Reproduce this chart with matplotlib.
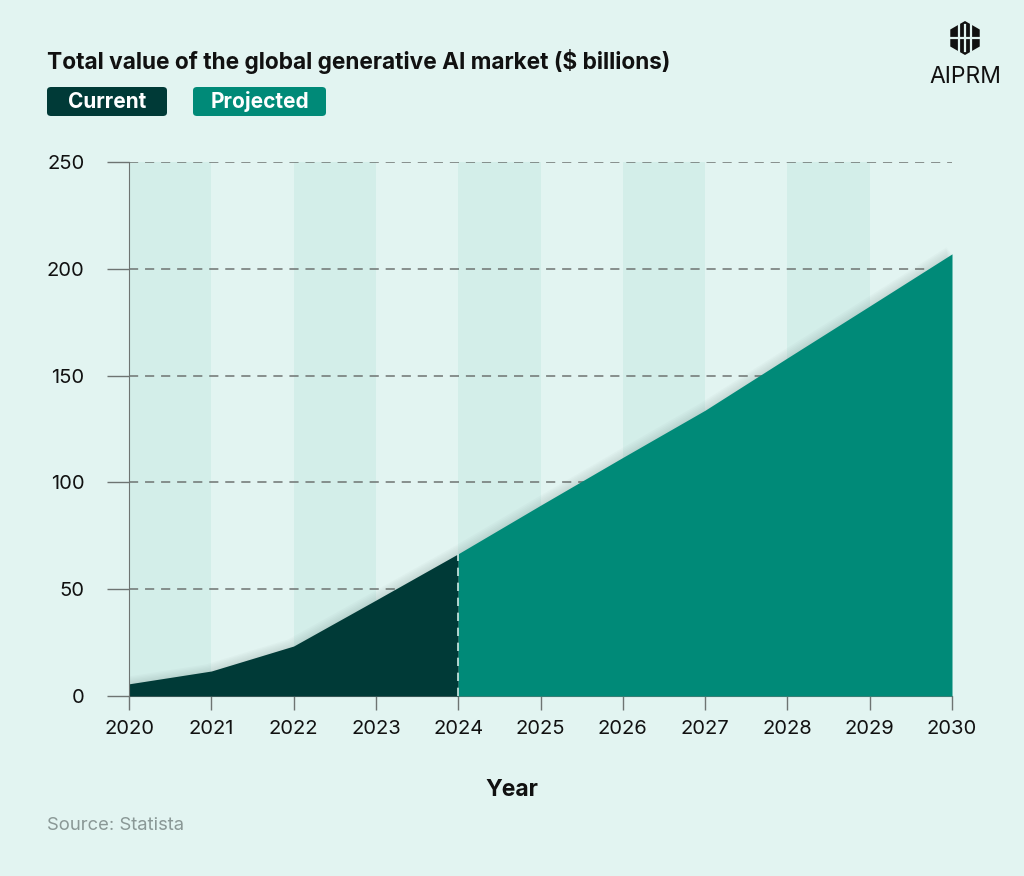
import matplotlib.pyplot as plt
from matplotlib.patches import FancyBboxPatch, Polygon
import numpy as np

# Datos
years = [2020, 2021, 2022, 2023, 2024, 2025, 2026, 2027, 2028, 2029, 2030]
market_value = [5.7, 11.7, 23.4, 44.9, 66.6, 89.3, 111.7, 133.8, 158.3, 182.6, 207.0]
split_year = 2024
y_ticks = [0, 50, 100, 150, 200, 250]

bg = '#E2F4F1'
band = '#D3EEE9'
dark = '#003A37'
green = '#008A78'
grid_c = '#6E7472'

plt.rcParams['font.family'] = ['Inter', 'DejaVu Sans']

fig = plt.figure(figsize=(10.24, 8.76), dpi=100, facecolor=bg)
ax = fig.add_axes([129 / 1024, 1 - 696 / 876, (952 - 129) / 1024, (696 - 162) / 876])
ax.set_facecolor(bg)

# Bandas alternas
for y0 in years[:-1:2]:
    ax.axvspan(y0, y0 + 1, color=band, lw=0, zorder=0)

# Líneas de cuadrícula
for t in y_ticks[1:]:
    ax.axhline(t, color=grid_c, lw=1.1, ls=(0, (6, 4.5)), zorder=1)

x = np.array(years, dtype=float)
y = np.array(market_value)
cur = x <= split_year
proj = x >= split_year

# Sombra suave sobre el borde superior
for k in range(1, 7):
    ax.fill_between(x - 0.012 * k, 0, y + 0.55 * k, color='#5a6e6a', alpha=0.03, lw=0, zorder=2)

ax.fill_between(x[cur], 0, y[cur], color=dark, lw=0, zorder=3)
ax.fill_between(x[proj], 0, y[proj], color=green, lw=0, zorder=3)
ax.plot([split_year, split_year], [0, y[years.index(split_year)]], color='#CDEBE5',
        lw=1.2, ls=(0, (5, 4)), zorder=4)

ax.set_xlim(2020, 2030)
ax.set_ylim(0, 250)
ax.set_xticks(years)
ax.set_yticks(y_ticks)
ax.tick_params(axis='y', length=16, width=1, color=grid_c, pad=16, labelsize=14.5, labelcolor='#111111')
ax.tick_params(axis='x', length=10, width=1, color=grid_c, pad=7, labelsize=14.5, labelcolor='#111111')
for s in ['top', 'right']:
    ax.spines[s].set_visible(False)
ax.spines['left'].set_color(grid_c)
ax.spines['bottom'].set_color(grid_c)
ax.spines['left'].set_zorder(5)

fig.text(512 / 1024, 1 - 790 / 876, 'Year', fontsize=16.5, fontweight='bold',
         ha='center', va='center', color='#111111')

# Título y leyenda
fig.text(47 / 1024, 1 - 61 / 876, 'Total value of the global generative AI market ($ billions)',
         fontsize=16.3, fontweight='bold', va='center', ha='left', color='#111111')

for (x0, x1, label, col) in [(47, 167, 'Current', dark), (193, 326, 'Projected', green)]:
    box = FancyBboxPatch((x0 / 1024, 1 - 116 / 876), (x1 - x0) / 1024, 29 / 876,
                         boxstyle='round,pad=0,rounding_size=0.004', transform=fig.transFigure,
                         facecolor=col, edgecolor='none')
    fig.patches.append(box)
    fig.text((x0 + x1) / 2 / 1024, 1 - 101.5 / 876, label, color='white', fontsize=15,
             fontweight='bold', ha='center', va='center')

fig.text(47 / 1024, 1 - 825 / 876, 'Source: Statista', fontsize=13.3, color='#8A9896', va='center')

# Logo AIPRM
fig.text(965 / 1024, 1 - 77 / 876, 'AIPRM', fontsize=16.5, ha='center', va='center', color='#111111')
cx, cy = 965, 38
hexpts = [(cx + 17 * np.cos(a), cy + 17 * np.sin(a)) for a in np.radians(np.arange(30, 390, 60))]
fig.patches.append(Polygon([(px / 1024, 1 - py / 876) for px, py in hexpts], closed=True,
                           transform=fig.transFigure, facecolor='#111111', edgecolor='none'))
for dx in [-6, 0, 6]:
    fig.lines.append(plt.Line2D([(cx + dx) / 1024] * 2, [1 - (cy - 13) / 876, 1 - (cy + 13) / 876],
                                transform=fig.transFigure, color=bg, lw=1.6))
fig.lines.append(plt.Line2D([(cx - 15) / 1024, (cx + 15) / 1024], [1 - cy / 876] * 2,
                            transform=fig.transFigure, color=bg, lw=1.6))

fig.savefig('out.png', dpi=100, facecolor=bg)
